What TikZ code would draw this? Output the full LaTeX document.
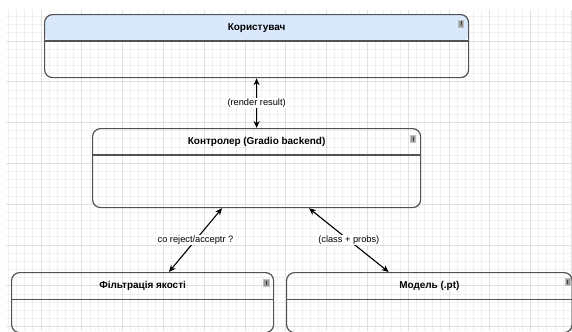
\documentclass[tikz,border=0pt]{standalone}
\usepackage{fontspec}
\setmainfont{Liberation Sans}
\usetikzlibrary{arrows.meta,calc}

\begin{document}
\begin{tikzpicture}[x=1bp,y=-1bp,
  gridminor/.style={draw=black!6, line width=0.5bp},
  gridmajor/.style={draw=black!12, line width=0.6bp},
  umlbox/.style={draw=black!68, line width=1.2bp, rounded corners=8bp,
    inner sep=0pt, anchor=north west},
  divider/.style={draw=black!68, line width=1.2bp},
  title/.style={font=\bfseries\fontsize{10}{12}\selectfont, inner sep=0pt},
  conn/.style={draw=black, line width=1.1bp,
    {Stealth[length=7bp,width=6bp]}-{Stealth[length=7bp,width=6bp]}},
  lbl/.style={fill=white, inner sep=1bp, font=\fontsize{9.3}{11}\selectfont},
  toggle/.style={fill=black!40, draw=black!25, line width=0.5bp,
    minimum width=5.5bp, minimum height=7bp, inner sep=0pt,
    path picture={\draw[black!75, line width=0.7bp]
      (path picture bounding box.north) ++(0,1.5) -- ++(0,4);}},
  hdrblue/.style={fill={rgb,255:red,218;green,232;blue,252}}
]
\useasboundingbox (0,0) rectangle (572,331);
\clip (0,0) rectangle (572,331);

% background grid
\foreach \i in {1,...,70} {
  \pgfmathsetmacro\gx{\i*8.16}
  \draw[gridminor] (\gx,10) -- (\gx,331);
}
\foreach \j in {2,...,40} {
  \pgfmathsetmacro\gy{\j*8.16}
  \draw[gridminor] (6,\gy) -- (572,\gy);
}
\foreach \i in {5,10,...,70} {
  \pgfmathsetmacro\gx{\i*8.16}
  \draw[gridmajor] (\gx,10) -- (\gx,331);
}
\foreach \j in {5,10,...,40} {
  \pgfmathsetmacro\gy{\j*8.16}
  \draw[gridmajor] (6,\gy) -- (572,\gy);
}

% swimlane boxes
\node[umlbox, minimum width=424bp, minimum height=63bp,
  path picture={\fill[hdrblue] (path picture bounding box.north west)
    rectangle ($(path picture bounding box.north east)+(0,27)$);}]
  (user) at (44,14) {};
\node[umlbox, minimum width=328bp, minimum height=79bp] (ctrl) at (92,128) {};
\node[umlbox, minimum width=262bp, minimum height=60bp] (filt) at (11,272) {};
\node[umlbox, minimum width=285.5bp, minimum height=60bp] (model) at (286,272) {};

% header dividers
\draw[divider] ($(user.north west)+(0,27)$) -- ($(user.north east)+(0,27)$);
\draw[divider] ($(ctrl.north west)+(0,27)$) -- ($(ctrl.north east)+(0,27)$);
\draw[divider] ($(filt.north west)+(0,27.5)$) -- ($(filt.north east)+(0,27.5)$);
\draw[divider] ($(model.north west)+(0,27.5)$) -- ($(model.north east)+(0,27.5)$);

% titles
\node[title] (usert) at ($(user.north)+(0,14)$) {Користувач};
\node[title] (ctrlt) at ($(ctrl.north)+(0,14)$) {Контролер (Gradio backend)};
\node[title] (filtt) at ($(filt.north)+(0,14)$) {Фільтрація якості};
\node[title] (modelt) at ($(model.north)+(0,14)$) {Модель (.pt)};

% collapse toggles
\node[toggle] (usertg) at ($(user.north east)+(-8.3,9.3)$) {};
\node[toggle] (ctrltg) at ($(ctrl.north east)+(-8.3,10.8)$) {};
\node[toggle] (filttg) at ($(filt.north east)+(-8,10.5)$) {};
\node[toggle] (modeltg) at ($(model.north east)+(-5,10)$) {};

% connectors
\draw[conn] (user.south) -- node[lbl] {(render result)} (ctrl.north);
\draw[conn] ($(ctrl.south west)!0.395!(ctrl.south east)$)
  -- node[lbl] {co reject/acceptr ?}
  ($(filt.north west)!0.6!(filt.north east)$);
\draw[conn] ($(ctrl.south west)!0.659!(ctrl.south east)$)
  -- node[lbl] {(class + probs)}
  ($(model.north west)!0.358!(model.north east)$);
\end{tikzpicture}
\end{document}
